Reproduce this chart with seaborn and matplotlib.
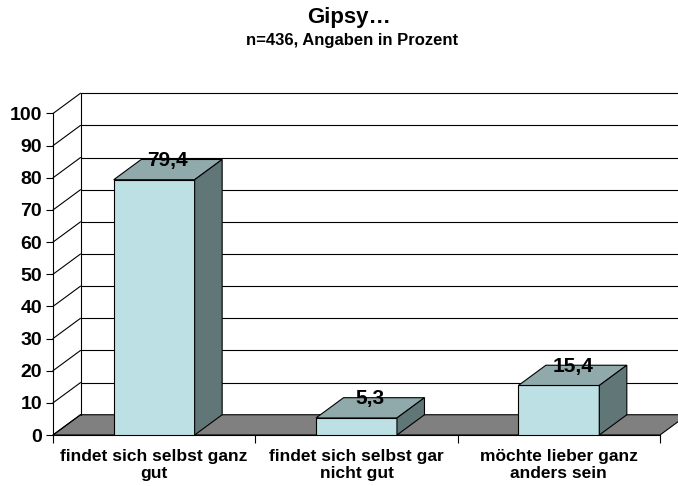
import numpy as np
import matplotlib
matplotlib.use("Agg")
import matplotlib.pyplot as plt
from matplotlib.patches import Polygon
import seaborn as sns

# data
categories = ["findet sich selbst ganz\ngut", "findet sich selbst gar\nnicht gut", "möchte lieber ganz\nanders sein"]
values = [79.4, 5.3, 15.4]
value_labels = ["79,4", "5,3", "15,4"]
yticks = list(range(0, 101, 10))

title = "Gipsy…"
subtitle = "n=436, Angaben in Prozent"

# 3d look: depth offset in data units (x in categories, y in percent)
DX = 0.136
DY = 6.3
front_col = "#BCE0E3"
top_col = "#90A9AB"
side_col = "#617676"
floor_col = "#808080"

sns.set_style("white")
plt.rcParams["font.family"] = ["Liberation Sans", "DejaVu Sans"]
plt.rcParams["font.weight"] = "bold"
for key in ["text.color", "axes.labelcolor", "xtick.color", "ytick.color", "axes.edgecolor"]:
    plt.rcParams[key] = "black"

fig = plt.figure(figsize=(6.78, 4.86), dpi=100)
ax = fig.add_axes([53 / 678, 51 / 486, 607 / 678, 321.5 / 486])

sns.barplot(x=categories, y=values, width=0.4, color=front_col, saturation=1,
            edgecolor="black", linewidth=0.8, ax=ax, zorder=3)
ax.set_xlim(-0.5, 2.5)
ax.set_ylim(0, 100)

x_left = -0.5
x_right = 2.5
x_far = x_right + DX + 0.2

# floor
floor = Polygon([(x_left, 0), (x_right, 0), (x_right + DX, DY), (x_left + DX, DY)],
                closed=True, facecolor=floor_col, edgecolor="black", linewidth=0.8,
                zorder=1, clip_on=False)
ax.add_patch(floor)

# back wall gridlines and left wall edges
for v in yticks:
    if v > 0:
        ax.plot([x_left + DX, x_far], [v + DY, v + DY], color="black", lw=0.8,
                zorder=1.5, clip_on=False)
    ax.plot([x_left, x_left + DX], [v, v + DY], color="black", lw=0.8,
            zorder=1.5, clip_on=False)
ax.plot([x_left + DX, x_left + DX], [DY, 100 + DY], color="black", lw=0.8,
        zorder=1.5, clip_on=False)

# top and side faces of the bars
for p, lab in zip(ax.patches[:len(values)], value_labels):
    x0 = p.get_x()
    x1 = x0 + p.get_width()
    h = p.get_height()
    top = Polygon([(x0, h), (x1, h), (x1 + DX, h + DY), (x0 + DX, h + DY)],
                  closed=True, facecolor=top_col, edgecolor="black", linewidth=0.8,
                  zorder=3, clip_on=False)
    side = Polygon([(x1, 0), (x1 + DX, DY), (x1 + DX, h + DY), (x1, h)],
                   closed=True, facecolor=side_col, edgecolor="black", linewidth=0.8,
                   zorder=3, clip_on=False)
    ax.add_patch(top)
    ax.add_patch(side)
    ax.text((x0 + x1) / 2 + DX / 2, h + DY - 0.4, lab, ha="center", va="center",
            fontsize=15, fontweight="bold", color="black", zorder=5)

# axes styling
for s in ["top", "right"]:
    ax.spines[s].set_visible(False)
ax.spines["left"].set_linewidth(0.8)
ax.spines["bottom"].set_linewidth(0.8)
ax.spines["left"].set_zorder(2)
ax.spines["bottom"].set_zorder(2)

ax.set_yticks(yticks)
ax.set_yticklabels([str(v) for v in yticks], fontsize=14, fontweight="bold")
ax.tick_params(axis="y", left=True, length=5, width=0.8, pad=3, direction="out")

ax.set_xticks([-0.5, 0.5, 1.5, 2.5])
ax.set_xticklabels([])
ax.set_xticks([0, 1, 2], minor=True)
ax.set_xticklabels(categories, minor=True, fontsize=12.5, fontweight="bold")
ax.tick_params(axis="x", which="major", bottom=True, length=6, width=0.8, direction="out")
ax.tick_params(axis="x", which="minor", bottom=False, length=0, pad=10)
ax.set_xlabel("")
ax.set_ylabel("")

fig.text(349 / 678, 1 - 17 / 486, title, ha="center", va="center", fontsize=16, fontweight="bold")
fig.text(352 / 678, 1 - 41 / 486, subtitle, ha="center", va="center", fontsize=12, fontweight="bold")

fig.savefig("out.png", dpi=100)
